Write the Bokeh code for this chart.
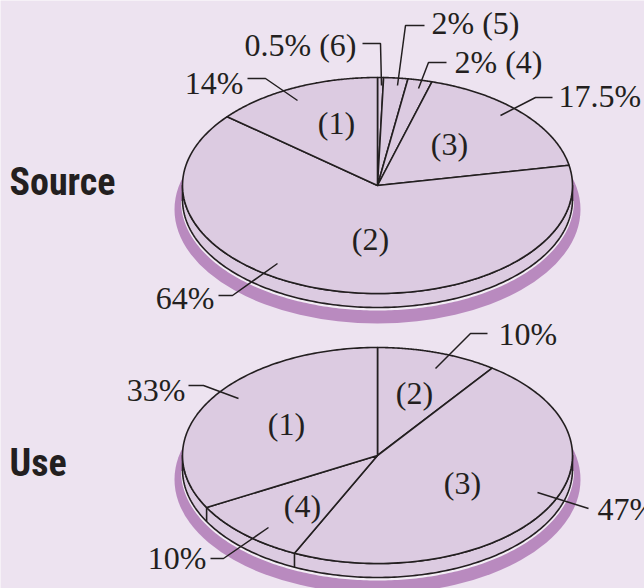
import numpy as np
from bokeh.plotting import figure
from bokeh.models import Range1d
from bokeh.embed import file_html
from bokeh.resources import INLINE
from bokeh.core.properties import value

# ---- data (slices listed clockwise from 12 o'clock) ----
source_ids = ["(6)", "(5)", "(4)", "(3)", "(2)", "(1)"]
source_shares = [0.5, 2, 2, 17.5, 64, 14]
use_ids = ["(2)", "(3)", "(4)", "(1)"]
use_shares = [10, 47, 10, 33]
panel_titles = ["Source", "Use"]

# ---- styles ----
BG = "#ede3f0"
PIE = "#dccbe1"
SHADOW = "#b98abf"
INK = "#231f20"
SERIF = "Liberation Serif"
FS = "32px"
TITLE_FONT = "Roboto Condensed, Liberation Sans Narrow, Roboto"

W, H = 644, 588
RX, RY, DEPTH = 195, 108, 14
SH_DY, SH_RX, SH_RY = 24, 203, 114

p = figure(width=W, height=H, x_range=Range1d(0, W), y_range=Range1d(H, 0),
           output_backend="svg", toolbar_location=None, min_border=0,
           x_axis_location=None, y_axis_location=None)
p.grid.visible = False
p.outline_line_color = None
p.background_fill_color = BG
p.border_fill_color = BG


def ell(cx, cy, t, rx=RX, ry=RY):
    return cx + rx * np.sin(t), cy - ry * np.cos(t)


def fmt(s):
    return (f"{s:g}") + "%"


def draw_pie(cx, cy, ids, shares, layout):
    # shadow
    p.ellipse(x=[cx], y=[cy + SH_DY], width=2 * SH_RX, height=2 * SH_RY,
              fill_color=SHADOW, line_color=None)
    # light rim below the side band
    tt = np.linspace(np.pi / 2, 3 * np.pi / 2, 200)
    bx, by = ell(cx, cy + DEPTH + 1.5, tt)
    p.line(bx, by, line_color="#f3edf5", line_width=3)
    # side band
    tx, ty = ell(cx, cy, tt)
    bx, by = ell(cx, cy + DEPTH, tt[::-1])
    p.patch(np.concatenate([tx, bx]), np.concatenate([ty, by]),
            fill_color=PIE, line_color=INK, line_width=1.6, line_join="round")
    # wedges on the top face
    total = float(sum(shares))
    cum = np.cumsum([0] + list(shares)) / total * 2 * np.pi
    xs, ys = [], []
    for i in range(len(shares)):
        t = np.linspace(cum[i], cum[i + 1], 120)
        x, y = ell(cx, cy, t)
        xs.append(np.concatenate([[cx], x]))
        ys.append(np.concatenate([[cy], y]))
    p.patches(xs, ys, fill_color=PIE, line_color=INK, line_width=1.6,
              line_join="round")
    # visible side edges at the slice boundaries on the front half
    for a in cum[1:-1]:
        if np.pi / 2 < a < 3 * np.pi / 2:
            x0, y0 = ell(cx, cy, a)
            x1, y1 = ell(cx, cy + DEPTH, a)
            p.segment(x0=[x0], y0=[y0], x1=[x1], y1=[y1],
                      line_color=INK, line_width=1.6)
    # labels
    for i, (sid, s) in enumerate(zip(ids, shares)):
        lay = layout[i]
        txt = fmt(s) + (" " + sid if lay["id"] is None else "")
        p.text(x=[lay["tx"]], y=[lay["ty"]], text=[txt],
               text_font=value(SERIF), text_font_size=FS,
               text_align=lay["align"], text_baseline="middle",
               text_color=INK)
        lx, ly = zip(*lay["leader"])
        p.line(list(lx), list(ly), line_color=INK, line_width=1.5)
        if lay["id"] is not None:
            p.text(x=[lay["id"][0]], y=[lay["id"][1]], text=[sid],
                   text_font=value(SERIF), text_font_size=FS,
                   text_align="center", text_baseline="middle",
                   text_color=INK)


source_layout = [
    dict(tx=356, ty=44, align="right", leader=[(362, 43), (380, 43), (381, 85)], id=None),
    dict(tx=431, ty=22, align="left", leader=[(424, 25), (405, 25), (397, 85)], id=None),
    dict(tx=454, ty=61, align="left", leader=[(446, 62), (428, 62), (418, 88)], id=None),
    dict(tx=558, ty=95, align="left", leader=[(552, 97), (535, 97), (500, 115)], id=(449, 143)),
    dict(tx=214, ty=297, align="right", leader=[(218, 295), (232, 295), (277, 263)], id=(370, 238)),
    dict(tx=243, ty=82, align="right", leader=[(247, 78), (265, 78), (297, 100)], id=(336, 122)),
]
use_layout = [
    dict(tx=498, ty=333, align="left", leader=[(487, 333), (470, 333), (435, 368)], id=(414, 392)),
    dict(tx=597, ty=508, align="left", leader=[(588, 508), (537, 492)], id=(462, 482)),
    dict(tx=206, ty=557, align="right", leader=[(210, 558), (223, 558), (268, 527)], id=(302, 505)),
    dict(tx=185, ty=389, align="right", leader=[(188, 385), (203, 385), (238, 398)], id=(286, 423)),
]

draw_pie(377, 185, source_ids, source_shares, source_layout)
draw_pie(377, 455, use_ids, use_shares, use_layout)

p.text(x=[9, 9], y=[181, 462], text=panel_titles,
       text_font=value(TITLE_FONT), text_font_size="38px",
       text_font_style="bold", text_align="left", text_baseline="middle",
       text_color=INK)

open("out.html", "w").write(file_html(p, INLINE))
